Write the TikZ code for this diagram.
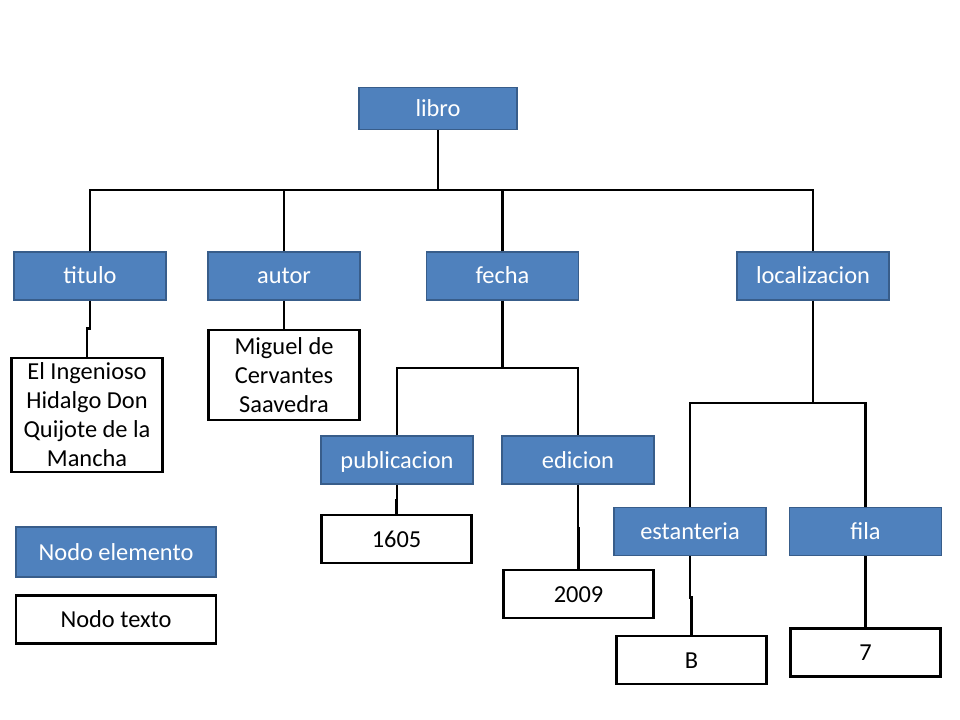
\documentclass[tikz,border=0pt]{standalone}
\usepackage{fontspec}
\setmainfont{Carlito}
\definecolor{elemfill}{HTML}{4F81BD}
\definecolor{elemdraw}{HTML}{385D8A}
\begin{document}
\begin{tikzpicture}[x=0.75pt,y=-0.75pt,
  elem/.style={rectangle, fill=elemfill, draw=elemdraw, line width=0.9pt, text=white,
    minimum width=114pt, minimum height=36pt, inner sep=0pt,
    text height=14pt, text depth=2pt,
    font=\fontsize{18.3}{21.8}\selectfont},
  txt/.style={rectangle, fill=white, draw=black, line width=2.2pt, text=black,
    minimum width=113pt, minimum height=36pt, inner sep=0pt, align=center,
    font=\fontsize{18.3}{21.8}\selectfont},
  oneline/.style={text height=14pt, text depth=2pt},
  conn/.style={draw=black, line width=2.2pt, line join=miter}]
\useasboundingbox (0,0) rectangle (960,720);
\fill[white] (0,0) rectangle (960,720);

% element nodes
\node[elem, minimum width=118.5pt, minimum height=31.5pt] (libro) at (438,108.5) {libro};
\node[elem] (titulo) at (90,276) {titulo};
\node[elem] (autor) at (284,276) {autor};
\node[elem] (fecha) at (502.5,276) {fecha};
\node[elem] (localizacion) at (813,276) {localizacion};
\node[elem] (publicacion) at (397,460) {publicacion};
\node[elem] (edicion) at (578,460) {edicion};
\node[elem] (estanteria) at (690,531.5) {estanteria};
\node[elem] (fila) at (865.5,531.5) {fila};

% text nodes
\node[txt, minimum height=85.5pt] (ttitulo) at (87,415) {El Ingenioso\\Hidalgo Don\\Quijote de la\\Mancha};
\node[txt, minimum height=67.5pt] (tautor) at (284,375) {Miguel de\\Cervantes\\Saavedra};
\node[txt, oneline] (tpub) at (396.5,539) {1605};
\node[txt, oneline] (tedi) at (578.5,594) {2009};
\node[txt, oneline] (test) at (691.5,660) {B};
\node[txt, oneline] (tfila) at (865.5,652.5) {7};

% legend
\node[elem, minimum width=150pt, minimum height=37.5pt] (legelem) at (116,552) {Nodo elemento};
\node[txt, oneline, minimum width=150pt, minimum height=36.5pt] (legtxt) at (116,619.5) {Nodo texto};

% connectors
\coordinate (bar1) at (0,190);
\coordinate (bar2) at (0,368);
\coordinate (bar3) at (0,403);
\draw[conn] (libro.south) -- (libro.south |- bar1);
\draw[conn] (titulo.north) -- (titulo.north |- bar1) -- (localizacion.north |- bar1) -- (localizacion.north);
\draw[conn] (autor.north) -- (autor.north |- bar1);
\draw[conn] (fecha.north) -- (fecha.north |- bar1);

\draw[conn] (fecha.south) -- (fecha.south |- bar2);
\draw[conn] (publicacion.north) -- (publicacion.north |- bar2) -- (edicion.north |- bar2) -- (edicion.north);

\draw[conn] (localizacion.south) -- (localizacion.south |- bar3);
\draw[conn] (estanteria.north) -- (estanteria.north |- bar3) -- (fila.north |- bar3) -- (fila.north);

\draw[conn] (titulo.south) -- ++(0,28) -| (ttitulo.north);
\draw[conn] (autor.south) -- (tautor.north);
\draw[conn] (publicacion.south) -- ++(0,16) -| (tpub.north);
\draw[conn] (edicion.south) -- ++(0,44) -| (tedi.north);
\draw[conn] (estanteria.south) -- ++(0,41) -| (test.north);
\draw[conn] (fila.south) -- ++(0,37) -| (tfila.north);
\end{tikzpicture}
\end{document}
